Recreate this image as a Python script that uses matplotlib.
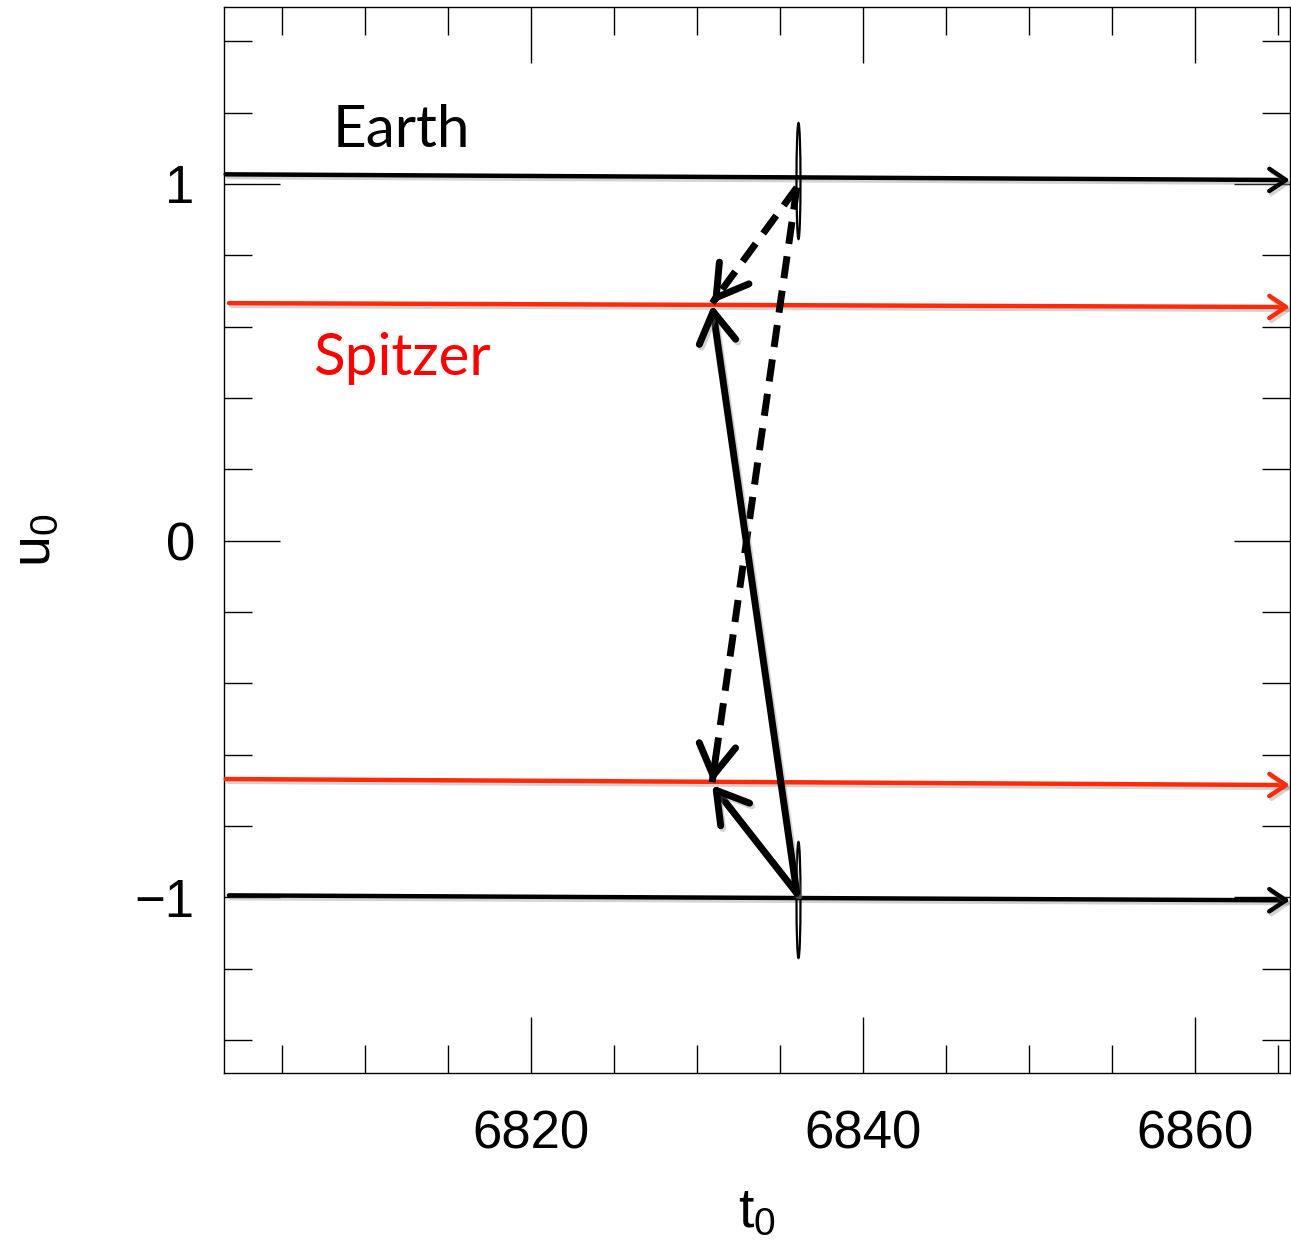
import numpy as np
import matplotlib
matplotlib.use("Agg")
import matplotlib.pyplot as plt
from matplotlib.patches import Ellipse, FancyArrowPatch
from matplotlib.ticker import MultipleLocator
import matplotlib.patheffects as pe

plt.rcParams['font.family'] = ['Liberation Sans', 'DejaVu Sans']
plt.rcParams['mathtext.fontset'] = 'custom'
plt.rcParams['mathtext.rm'] = 'Liberation Sans'
plt.rcParams['mathtext.it'] = 'Liberation Sans'

# axis range
t_min, t_max = 6801.5, 6865.7
u_min, u_max = -1.492, 1.496

# horizontal tracks: u0 at left and right ends
earth_top = [1.027, 1.011]
spitzer_top = [0.666, 0.655]
spitzer_bot = [-0.668, -0.685]
earth_bot = [-0.994, -1.008]
track_start = [6801.6, 6801.8, 6801.6, 6801.8]

# Earth solutions (ellipses) and Spitzer points
earth_t0 = 6836.1
earth_u0 = [1.008, -1.007]
ell_w, ell_h = 0.24, 0.325
spitzer_t0 = 6830.9

# arrows: (tail t, tail u, tip t, tip u)
dashed_arrows = [(6836.0, 0.99, 6830.9, 0.666),
                 (6836.0, 0.99, 6830.9, -0.677)]
solid_arrows = [(6836.0, -0.988, 6830.9, 0.661),
                (6836.0, -0.988, 6830.9, -0.685)]

red = '#ff2a0a'
shadow = [pe.SimpleLineShadow(offset=(1.5, -2), shadow_color='gray', alpha=0.35), pe.Normal()]

fig = plt.figure(figsize=(12.91, 12.5), dpi=100)
ax = fig.add_axes([0.1735, 0.1416, 0.8257, 0.8528])
ax.set_xlim(t_min, t_max)
ax.set_ylim(u_min, u_max)

# tracks with arrowheads at the right edge
tracks = [(earth_top, 'black'), (spitzer_top, red), (spitzer_bot, red), (earth_bot, 'black')]
for (uu, col), ts in zip(tracks, track_start):
    a = FancyArrowPatch((ts, uu[0]), (t_max, uu[1]),
                        arrowstyle='->,head_length=0.6,head_width=0.4',
                        mutation_scale=20, lw=3.2, color=col,
                        shrinkA=0, shrinkB=0, clip_on=False,
                        capstyle='round', joinstyle='round', zorder=3)
    a.set_path_effects(shadow)
    ax.add_patch(a)

for u in earth_u0:
    ax.add_patch(Ellipse((earth_t0, u), ell_w, ell_h, fill=False, lw=1.6,
                         edgecolor='black', zorder=4))

head = '->,head_length=0.55,head_width=0.33'
for t1, u1, t2, u2 in dashed_arrows:
    # shaft dashed, head solid
    bt = t2 + 0.04 * (t1 - t2)
    bu = u2 + 0.04 * (u1 - u2)
    ax.plot([t1, t2], [u1, u2], color='black', lw=5, ls=(0, (3.2, 1.8)),
            dash_capstyle='butt', zorder=5)
    a = FancyArrowPatch((bt, bu), (t2, u2), arrowstyle=head, mutation_scale=40,
                        lw=5, color='black', shrinkA=0, shrinkB=0,
                        capstyle='round', joinstyle='round', zorder=5)
    ax.add_patch(a)

for t1, u1, t2, u2 in solid_arrows:
    a = FancyArrowPatch((t1, u1), (t2, u2), arrowstyle=head, mutation_scale=40,
                        lw=5, color='black', shrinkA=0, shrinkB=0,
                        capstyle='round', joinstyle='round', zorder=5)
    a.set_path_effects(shadow)
    ax.add_patch(a)

ax.text(6808.07, 1.104, 'Earth', fontsize=42, family=['Lato', 'DejaVu Sans'],
        color='black', ha='left', va='baseline')
ax.text(6806.87, 0.4645, 'Spitzer', fontsize=42, family=['Lato', 'DejaVu Sans'],
        color='#ff0000', ha='left', va='baseline')

ax.xaxis.set_major_locator(MultipleLocator(20))
ax.xaxis.set_minor_locator(MultipleLocator(5))
ax.yaxis.set_major_locator(MultipleLocator(1))
ax.yaxis.set_minor_locator(MultipleLocator(0.2))
ax.tick_params(which='both', direction='in', top=True, right=True, width=1.0)
ax.tick_params(which='major', length=40, labelsize=38)
ax.tick_params(axis='x', which='major', pad=26)
ax.tick_params(axis='y', which='major', pad=21)
ax.tick_params(which='minor', length=20)
for s in ax.spines.values():
    s.set_linewidth(1.0)

ax.set_xlabel(r'$\mathregular{t_0}$', fontsize=40, labelpad=20)
ax.set_ylabel(r'$\mathregular{u_0}$', fontsize=40, labelpad=52)

fig.savefig('out.png', dpi=100)
